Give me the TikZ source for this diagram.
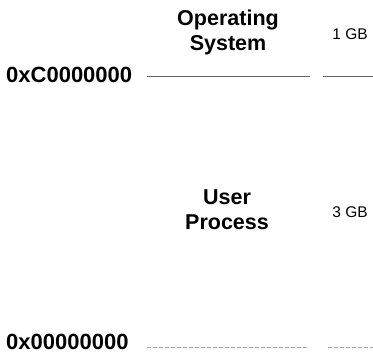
\documentclass[tikz,border=0pt]{standalone}
\usepackage{fontspec}
\setmainfont{Liberation Sans}
\begin{document}
\begin{tikzpicture}[x=1pt,y=-1pt,
  bigtext/.style={font=\fontsize{21.5}{25.5}\selectfont\bfseries, inner sep=0pt, anchor=base, align=center},
  addr/.style={font=\fontsize{22}{25.5}\selectfont\bfseries, inner sep=0pt, anchor=base west},
  size/.style={font=\fontsize{15.5}{18}\selectfont, inner sep=0pt, anchor=base},
  divider/.style={draw=black!60, line width=0.8pt},
  faded/.style={draw=black!35, line width=0.7pt, dash pattern=on 4pt off 2pt}]
\useasboundingbox (0,0) rectangle (373,353);
\node[bigtext] (os) at (228,51) {Operating\\System};
\node[size] (g1) at (350,40) {1 GB};
\node[addr] (a1) at (6,83) {0xC0000000};
\coordinate (t1) at (147,76);
\coordinate (t2) at (310,76);
\coordinate (t3) at (323,76);
\coordinate (t4) at (373,76);
\draw[divider] (t1) -- (t2);
\draw[divider] (t3) -- (t4);
\node[bigtext] (up) at (227,229.5) {User\\Process};
\node[size] (g3) at (350,218) {3 GB};
\node[addr] (a0) at (6,349) {0x00000000};
\coordinate (b1) at (147,347);
\coordinate (b2) at (307,347);
\coordinate (b3) at (328,347);
\coordinate (b4) at (373,347);
\draw[faded] (b1) -- (b2);
\draw[faded] (b3) -- (b4);
\end{tikzpicture}
\end{document}
